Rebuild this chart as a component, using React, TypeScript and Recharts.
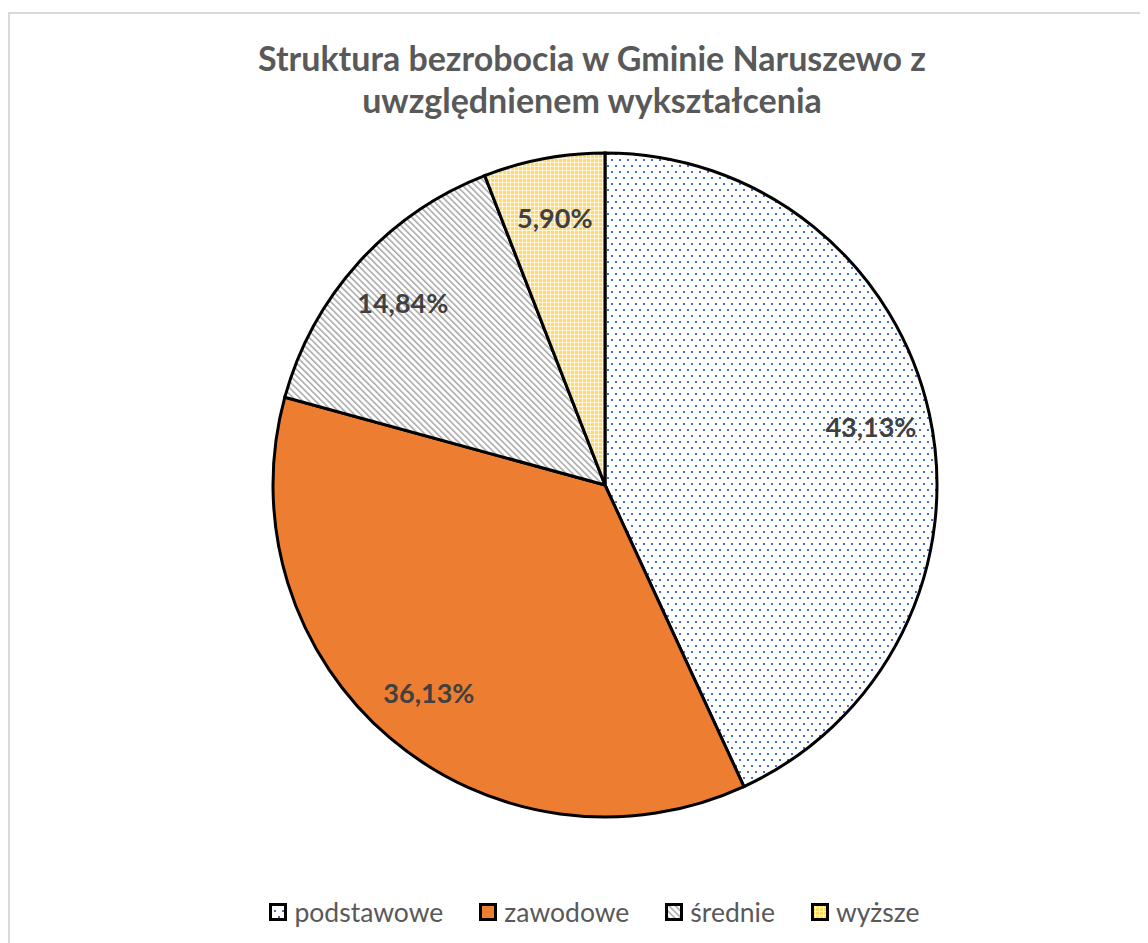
import React from "react";
import { PieChart, Pie, Cell, Legend } from "recharts";

// ---------------------------------------------------------------------------
// Data
// ---------------------------------------------------------------------------

const CATEGORIES = ["podstawowe", "zawodowe", "średnie", "wyższe"];
const SHARES = [43.13, 36.13, 14.84, 5.9];
const LABELS = ["43,13%", "36,13%", "14,84%", "5,90%"];
const FILLS = ["url(#pDots)", "#ED7D31", "url(#pStripes)", "url(#pGrid)"];

const TITLE_LINES = ["Struktura bezrobocia w Gminie Naruszewo z", "uwzględnienem wykształcenia"];

const data = CATEGORIES.map((name, i) => ({ name, value: SHARES[i], label: LABELS[i] }));

const FONT = "Lato, 'Open Sans', sans-serif";
const RADIAN = Math.PI / 180;

// ---------------------------------------------------------------------------
// Patterns
// ---------------------------------------------------------------------------

function Patterns() {
  return (
    <defs>
      <pattern id="pDots" width="8" height="12" patternUnits="userSpaceOnUse">
        <rect width="8" height="12" fill="#ffffff" />
        <rect x="1" y="1" width="2" height="2" fill="#4472C4" />
        <rect x="5" y="7" width="2" height="2" fill="#4472C4" />
      </pattern>
      <pattern
        id="pStripes"
        width="4.5"
        height="4.5"
        patternUnits="userSpaceOnUse"
        patternTransform="rotate(-45)"
      >
        <rect width="4.5" height="4.5" fill="#ffffff" />
        <rect x="0" y="0" width="1.6" height="4.5" fill="#ababab" />
      </pattern>
      <pattern id="pGrid" width="4" height="4" patternUnits="userSpaceOnUse">
        <rect width="4" height="4" fill="#FFD966" />
        <rect x="0" y="0" width="4" height="1" fill="#fff6dc" />
        <rect x="0" y="0" width="1" height="4" fill="#fff6dc" />
      </pattern>
    </defs>
  );
}

// ---------------------------------------------------------------------------
// Label + legend renderers
// ---------------------------------------------------------------------------

function renderLabel(props: any) {
  const { cx, cy, midAngle, outerRadius, index } = props;
  const r = outerRadius * 0.82;
  const x = cx + r * Math.cos(-midAngle * RADIAN);
  const y = cy + r * Math.sin(-midAngle * RADIAN);
  return (
    <text
      x={x}
      y={y}
      textAnchor="middle"
      dominantBaseline="central"
      fill="#404040"
      fontFamily={FONT}
      fontWeight={700}
      fontSize={27}
    >
      {LABELS[index]}
    </text>
  );
}

function renderLegend() {
  return (
    <div
      style={{
        display: "flex",
        justifyContent: "center",
        gap: 36,
        paddingRight: 11,
        fontFamily: FONT,
        fontSize: 26.5,
        color: "#595959",
      }}
    >
      {CATEGORIES.map((name, i) => (
        <div key={name} style={{ display: "flex", alignItems: "center", gap: 7 }}>
          <svg width={18} height={18}>
            <rect x={1.5} y={1.5} width={15} height={15} fill={FILLS[i]} stroke="#000" strokeWidth={3} />
          </svg>
          <span>{name}</span>
        </div>
      ))}
    </div>
  );
}

// ---------------------------------------------------------------------------
// App
// ---------------------------------------------------------------------------

export default function App() {
  return (
    <div
      style={{
        position: "relative",
        marginTop: 4,
        width: 1150,
        height: 940,
        border: "2px solid #d9d9d9",
        background: "#fff",
        boxSizing: "border-box",
      }}
    >
      <div
        style={{
          position: "absolute",
          top: 23,
          left: 0,
          width: 1164,
          textAlign: "center",
          fontFamily: FONT,
          fontWeight: 700,
          fontSize: 34,
          lineHeight: "42px",
          color: "#595959",
        }}
      >
        {TITLE_LINES.map((t) => (
          <div key={t}>{t}</div>
        ))}
      </div>
      <PieChart width={1180} height={930} style={{ position: "absolute", top: 0, left: 0 }}>
        <Patterns />
        <Pie
          data={data}
          dataKey="value"
          nameKey="name"
          cx={590}
          cy={466}
          outerRadius={332}
          startAngle={90}
          endAngle={-270}
          stroke="#000"
          strokeWidth={3}
          label={renderLabel}
          labelLine={false}
          isAnimationActive={false}
        >
          {data.map((d, i) => (
            <Cell key={d.name} fill={FILLS[i]} />
          ))}
        </Pie>
        <Legend verticalAlign="bottom" content={renderLegend} wrapperStyle={{ bottom: 16 }} />
      </PieChart>
    </div>
  );
}
